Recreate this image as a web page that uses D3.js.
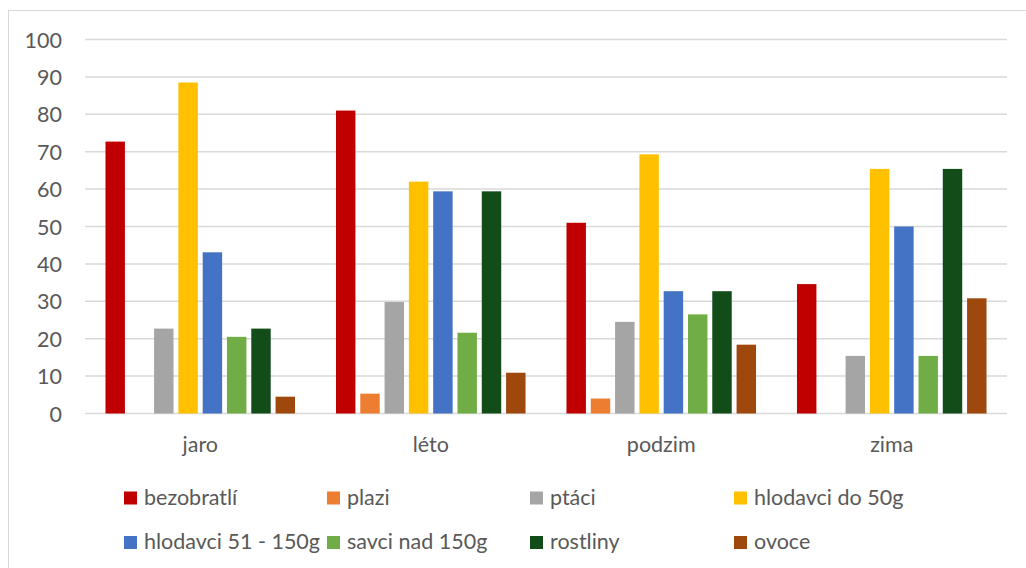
<!DOCTYPE html>
<html>
<head>
<meta charset="utf-8">
<script src="https://cdn.jsdelivr.net/npm/d3@7"></script>
<style>
  html, body { margin: 0; padding: 0; background: #fff; }
  svg { display: block; }
  text { font-family: Lato, "Open Sans", sans-serif; fill: #595959; }
</style>
</head>
<body>
<svg id="chart" width="1026" height="568"></svg>
<script>
// Seasons on the x axis
const seasons = ["jaro", "léto", "podzim", "zima"];

// Food categories (series) and their colours
const seriesNames = ["bezobratlí", "plazi", "ptáci", "hlodavci do 50g",
                     "hlodavci 51 - 150g", "savci nad 150g", "rostliny", "ovoce"];
const seriesColors = ["#c00000", "#ed7d31", "#a5a5a5", "#ffc000",
                      "#4472c4", "#70ad47", "#114c19", "#9e480e"];

// Values per series, one per season (jaro, léto, podzim, zima)
const bezobratli   = [72.7, 81.0, 51.0, 34.6];
const plazi        = [0,    5.3,  4.0,  0];
const ptaci        = [22.7, 29.8, 24.5, 15.4];
const hlodavci50   = [88.5, 62.0, 69.3, 65.4];
const hlodavci150  = [43.1, 59.4, 32.7, 50.0];
const savci150     = [20.5, 21.6, 26.5, 15.4];
const rostliny     = [22.7, 59.4, 32.7, 65.4];
const ovoce        = [4.5,  10.9, 18.4, 30.8];

// Value axis ticks
const yTicks = [0, 10, 20, 30, 40, 50, 60, 70, 80, 90, 100];

const seriesValues = [bezobratli, plazi, ptaci, hlodavci50,
                      hlodavci150, savci150, rostliny, ovoce];

const FONT = 21.5;
const svg = d3.select("#chart");

// Outer chart frame
svg.append("rect")
  .attr("x", 8.5).attr("y", 10.5)
  .attr("width", 1030).attr("height", 570)
  .attr("fill", "none").attr("stroke", "#d9d9d9").attr("stroke-width", 1);

const plot = { left: 85, right: 1007, top: 39.5, bottom: 413.5 };

const x = d3.scaleBand().domain(seasons).range([plot.left, plot.right]).padding(0);
const y = d3.scaleLinear().domain([0, 100]).range([plot.bottom, plot.top]);

const slot = 24.3;
const bw = x.bandwidth();
const xi = d3.scaleBand()
  .domain(d3.range(seriesNames.length))
  .range([bw / 2 - 4 * slot, bw / 2 + 4 * slot])
  .paddingInner(0.2).paddingOuter(0.1);

// Horizontal gridlines
svg.append("g").selectAll("line").data(yTicks).join("line")
  .attr("x1", plot.left).attr("x2", plot.right)
  .attr("y1", d => y(d)).attr("y2", d => y(d))
  .attr("stroke", "#d9d9d9").attr("stroke-width", 1.5);

// Y axis tick labels
const yAxis = d3.axisLeft(y).tickValues(yTicks).tickSize(0).tickPadding(0);
const gy = svg.append("g").attr("transform", "translate(62,0)").call(yAxis);
gy.select(".domain").remove();
gy.selectAll("text")
  .attr("font-size", FONT).attr("fill", "#595959")
  .attr("font-family", "Lato, 'Open Sans', sans-serif")
  .attr("dy", "0.35em");

// Bars
const groups = svg.append("g").selectAll("g").data(seasons).join("g")
  .attr("transform", s => `translate(${x(s)},0)`);

groups.selectAll("rect")
  .data((s, si) => seriesValues.map((vals, k) => ({ k, v: vals[si] })).filter(d => d.v > 0))
  .join("rect")
  .attr("x", d => xi(d.k))
  .attr("width", xi.bandwidth())
  .attr("y", d => y(d.v))
  .attr("height", d => y(0) - y(d.v))
  .attr("fill", d => seriesColors[d.k]);

// Category labels
const xAxis = d3.axisBottom(x).tickSize(0).tickPadding(0);
const gx = svg.append("g").attr("transform", `translate(0,${plot.bottom})`).call(xAxis);
gx.select(".domain").remove();
gx.selectAll("text")
  .attr("font-size", FONT).attr("fill", "#595959")
  .attr("font-family", "Lato, 'Open Sans', sans-serif")
  .attr("dy", null).attr("y", 38.5);

// Legend: 4 columns, 2 rows
const legendX = [124, 327, 530, 734];
const legendY = [491.5, 536];
const legend = svg.append("g").selectAll("g").data(seriesNames).join("g")
  .attr("transform", (d, i) => `translate(${legendX[i % 4]},${legendY[Math.floor(i / 4)]})`);
legend.append("rect")
  .attr("width", 13).attr("height", 13)
  .attr("fill", (d, i) => seriesColors[i]);
legend.append("text")
  .attr("x", 20).attr("y", 13)
  .attr("font-size", FONT)
  .text(d => d);
</script>
</body>
</html>
